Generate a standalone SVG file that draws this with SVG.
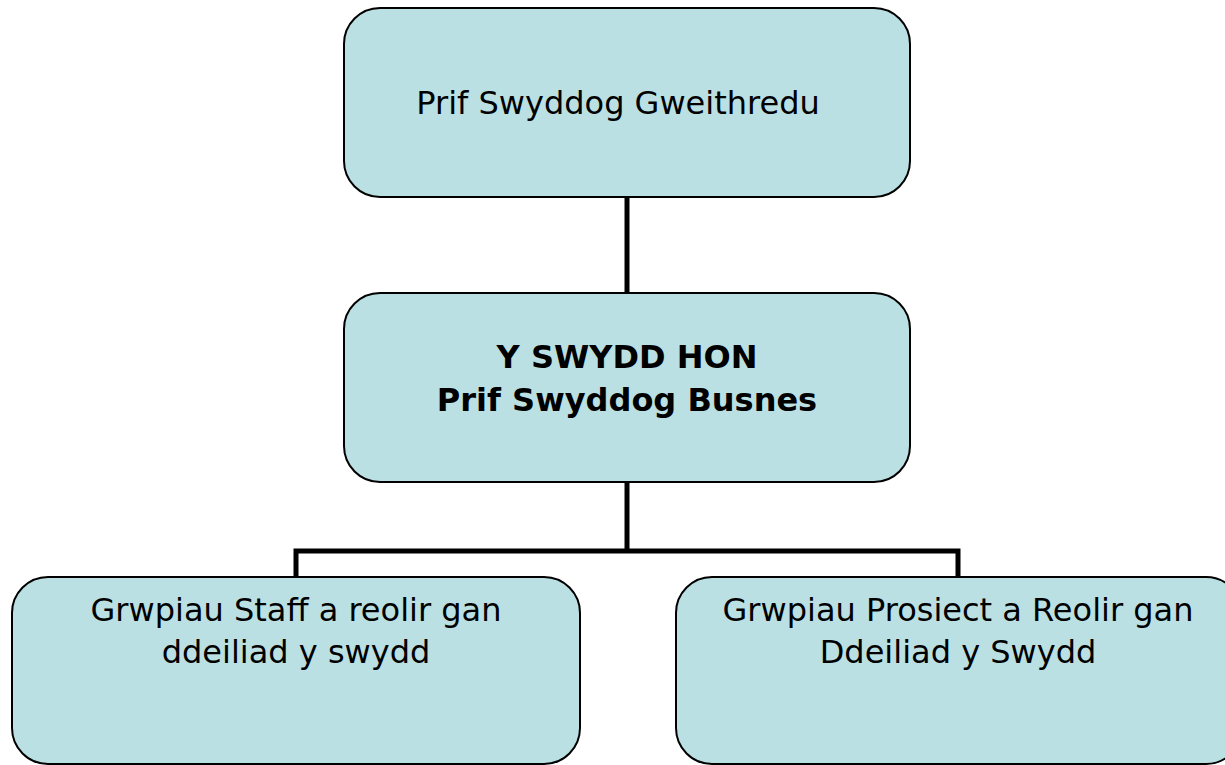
<svg xmlns="http://www.w3.org/2000/svg" width="1225" height="765" viewBox="0 0 1225 765">
<style>
.box{fill:#bbe0e3;stroke:#000;stroke-width:2}
.t{font-family:"DejaVu Sans",Verdana,sans-serif;font-size:32px;fill:#000;text-anchor:middle}
.b{font-weight:bold}
.c{fill:none;stroke:#000;stroke-width:5}
</style>
<rect width="1225" height="765" fill="#fff"/>
<g id="connectors">
<line class="c" x1="627" y1="197" x2="627" y2="293"/>
<polyline class="c" points="296,577 296,551 958,551 958,577"/>
<line class="c" x1="627" y1="482" x2="627" y2="551"/>
</g>
<g id="ceo">
<rect class="box" x="344" y="8" width="566" height="189" rx="36"/>
<text class="t" x="618" y="114">Prif Swyddog Gweithredu</text>
</g>
<g id="this-post">
<rect class="box" x="344" y="293" width="566" height="189" rx="36"/>
<text class="t b" x="627" y="368">Y SWYDD HON</text>
<text class="t b" x="627" y="411">Prif Swyddog Busnes</text>
</g>
<g id="staff-groups">
<rect class="box" x="12" y="577" width="568" height="187" rx="36"/>
<text class="t" x="296" y="621">Grwpiau Staff a reolir gan</text>
<text class="t" x="296" y="663">ddeiliad y swydd</text>
</g>
<g id="project-groups">
<rect class="box" x="676" y="577" width="566" height="187" rx="36"/>
<text class="t" x="958" y="621">Grwpiau Prosiect a Reolir gan</text>
<text class="t" x="958" y="663">Ddeiliad y Swydd</text>
</g>
</svg>
